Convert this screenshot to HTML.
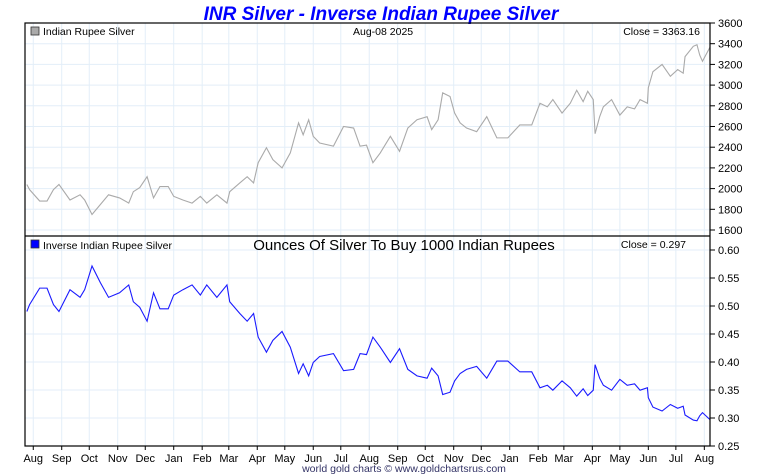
<!DOCTYPE html>
<html><head><meta charset="utf-8"><style>
body{margin:0;background:#fff;}
svg{display:block;font-family:"Liberation Sans",sans-serif;}
</style></head><body>
<svg id="c" width="760" height="475" viewBox="0 0 760 475">
<text x="381" y="20" text-anchor="middle" font-size="19" font-weight="bold" font-style="italic" fill="#0000ff">INR Silver - Inverse Indian Rupee Silver</text>
<g id="grid"></g>
<g id="marks"></g>
<rect x="25" y="23" width="685" height="423" fill="none" stroke="#000" stroke-width="1.2"/>
<line x1="25" y1="236" x2="710" y2="236" stroke="#000" stroke-width="1.2"/>
<rect x="31" y="27" width="8" height="8" fill="#aaa" stroke="#333" stroke-width="0.8"/>
<text x="43" y="35" font-size="10.5">Indian Rupee Silver</text>
<text x="353" y="35" font-size="10.5">Aug-08  2025</text>
<text x="700" y="35" font-size="10.5" text-anchor="end">Close = 3363.16</text>
<rect x="31" y="240" width="8" height="8" fill="#0000ff" stroke="#333" stroke-width="0.8"/>
<text x="43" y="249" font-size="10.5">Inverse Indian Rupee Silver</text>
<text x="404" y="250" font-size="15" text-anchor="middle">Ounces Of Silver To Buy 1000 Indian Rupees</text>
<text x="686" y="248" font-size="10.5" text-anchor="end">Close = 0.297</text>
<text x="404" y="472" font-size="10.5" text-anchor="middle" fill="#333366">world gold charts © www.goldchartsrus.com</text>
</svg>
<script>
const days=[2,5,16,24,31,37,49,60,65,73,82,91,103,113,118,125,133,140,147,156,162,172,182,191,198,209,220,223,234,242,249,254,263,270,280,289,298,303,309,314,321,336,347,358,365,372,379,387,398,408,417,427,438,443,450,455,463,468,474,481,492,503,514,526,539,552,561,569,575,585,594,601,608,613,619,621,626,630,639,648,656,664,670,678,679,684,694,703,711,717,719,728,732,735,738,746];
const prices=[2040,1990,1880,1880,1990,2040,1890,1940,1890,1750,1845,1940,1910,1860,1970,2010,2115,1910,2020,2020,1925,1890,1860,1925,1860,1940,1860,1970,2055,2115,2055,2250,2395,2280,2200,2345,2635,2520,2665,2505,2440,2410,2600,2585,2410,2420,2250,2345,2505,2360,2585,2665,2695,2570,2665,2925,2890,2730,2635,2585,2550,2695,2490,2490,2615,2615,2825,2790,2860,2730,2825,2950,2840,2940,2860,2530,2695,2790,2860,2710,2790,2770,2860,2825,2975,3130,3200,3085,3150,3115,3275,3375,3390,3290,3230,3363];
const inverse=prices.map(p=>1000/p);
const monthLabels=["Aug","Sep","Oct","Nov","Dec","Jan","Feb","Mar","Apr","May","Jun","Jul","Aug","Sep","Oct","Nov","Dec","Jan","Feb","Mar","Apr","May","Jun","Jul","Aug"];
const monthDays=[9,40,70,101,131,162,193,222,253,283,314,344,375,406,436,467,497,528,559,587,618,648,679,709,740];
const priceTicks=[1600,1800,2000,2200,2400,2600,2800,3000,3200,3400,3600];
const inverseTicks=[0.25,0.30,0.35,0.40,0.45,0.50,0.55,0.60];
const NS="http://www.w3.org/2000/svg";
const X=d=>25+d*0.918;
const YP=p=>230-(p-1600)*0.1035;
const YI=v=>446-(v-0.25)*560;
const grid=document.getElementById('grid'),marks=document.getElementById('marks'),svg=document.getElementById('c');
function mk(t,a,p){const e=document.createElementNS(NS,t);for(const k in a)e.setAttribute(k,a[k]);(p||grid).appendChild(e);return e;}
monthDays.forEach((d,i)=>{const x=X(d);
const g=mk('line',{x1:x,y1:23,x2:x,y2:446,stroke:'#e3eef8','stroke-width':1});


const t=mk('line',{x1:x,y1:446,x2:x,y2:450,stroke:'#000'},svg);


const l=mk('text',{x:x,y:462,'font-size':11,'text-anchor':'middle'},svg);l.textContent=monthLabels[i];

});
priceTicks.forEach(v=>{const y=YP(v);
if(y>24){const g=mk('line',{x1:25,y1:y,x2:710,y2:y,stroke:'#e3eef8'});

}
const t=mk('line',{x1:710,y1:y,x2:715,y2:y,stroke:'#000'},svg);


const l=mk('text',{x:718,y:y+4,'font-size':11},svg);l.textContent=v;

});
inverseTicks.forEach(v=>{const y=YI(v);
if(y<445){const g=mk('line',{x1:25,y1:y,x2:710,y2:y,stroke:'#e3eef8'});

}
const t=mk('line',{x1:710,y1:y,x2:715,y2:y,stroke:'#000'},svg);


const l=mk('text',{x:718,y:y+4,'font-size':11},svg);l.textContent=v.toFixed(2);

});
const p1=mk('polyline',{points:days.map((d,i)=>X(d)+','+YP(prices[i])).join(' '),fill:'none',stroke:'#aaaaaa','stroke-width':1.1},marks);


const p2=mk('polyline',{points:days.map((d,i)=>X(d)+','+YI(inverse[i])).join(' '),fill:'none',stroke:'#1a1aff','stroke-width':1.1},marks);


</script>
</body></html>
